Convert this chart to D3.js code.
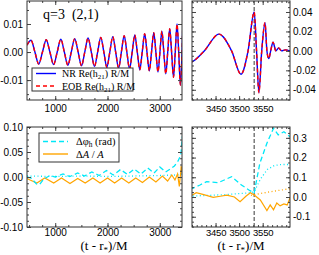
<!DOCTYPE html>
<html>
<head>
<meta charset="utf-8">
<script src="https://cdn.jsdelivr.net/npm/d3@7"></script>
<style>
  body { margin: 0; background: #fff; }
  svg { display: block; font-family: "Liberation Serif", "DejaVu Serif", serif; }
  .tick text { font-size: 10px; fill: #000; }
  .zoomx .tick text { font-size: 9.5px; letter-spacing: -0.2px; }
  .domain { display: none; }
  .tick line { stroke: #444; }
</style>
</head>
<body>
<div id="chart"></div>
<script>
// Re(h21) R/M (extrema and zero crossings), t in M
const waveT = [460, 538, 611, 685, 756, 828, 898, 969, 1038, 1107, 1174, 1241, 1307, 1373, 1438, 1503, 1565, 1628, 1690, 1751,
  1811, 1871, 1930, 1988, 2044, 2101, 2156, 2212, 2265, 2319, 2370, 2422, 2472, 2522, 2570, 2618, 2664, 2711, 2755, 2800,
  2842, 2885, 2925, 2966, 3003, 3040, 3077, 3115, 3152, 3190, 3226, 3262, 3296, 3330, 3362, 3395, 3426, 3457, 3484, 3504,
  3519, 3532, 3537, 3542, 3548, 3555, 3559, 3563, 3567, 3572, 3578, 3584, 3590, 3598, 3608];
const nrH = [0.0025, 0.0042, 0, -0.0043, 0, 0.0044, 0, -0.0045, 0, 0.0046, 0, -0.0047, 0, 0.0048, 0, -0.0049, 0, 0.0050, 0, -0.0051,
  0, 0.0052, 0, -0.0054, 0, 0.0055, 0, -0.0057, 0, 0.0058, 0, -0.0060, 0, 0.0061, 0, -0.0063, 0, 0.0065, 0, -0.0067,
  0, 0.0069, 0, -0.0071, 0, 0.0074, 0, -0.0078, 0, 0.0083, 0, -0.0090, 0, 0.0100, 0, -0.0118, 0, 0.0172, 0, -0.0240,
  0, 0.0400, 0, -0.0430, 0, 0.0290, 0, -0.0080, 0, 0.0090, 0, 0.0030, 0, 0.0010, 0];
// EOB lies on top of NR within the line width
const eobH = nrH.slice();

// phase difference (rad), dashed
const dphiT = [460, 540, 640, 700, 780, 900, 1000, 1150, 1280, 1430, 1560, 1700, 1840, 1980, 2110, 2250, 2380, 2510, 2640, 2770,
  2890, 3000, 3110, 3200, 3280, 3350, 3401, 3417, 3431, 3456, 3484, 3505, 3523, 3532, 3544, 3559, 3573, 3583, 3595, 3608];
const dphiV = [0.000, -0.002, -0.014, -0.015, -0.004, 0.003, 0.000, 0.006, 0.001, 0.008, 0.002, 0.010, 0.003, 0.013, 0.004, 0.015, 0.005, 0.016, 0.006, 0.018,
  0.008, 0.020, 0.010, 0.016, 0.022, 0.032, 0.044, 0.061, 0.078, 0.073, 0.103, 0.061, 0.032, 0.022, 0.171, 0.273, 0.349, 0.315, 0.331, 0.306];
// phase difference, dotted
const dphi2T = [460, 1000, 1500, 2000, 2500, 3000, 3300, 3401, 3431, 3470, 3505, 3525, 3532, 3545, 3560, 3575, 3590, 3608];
const dphi2V = [0.002, 0.001, 0.002, 0.001, 0.002, 0.003, 0.004, 0.005, 0.008, 0.012, 0.018, 0.022, 0.026, 0.090, 0.140, 0.160, 0.165, 0.165];
// relative amplitude difference, solid
const dampT = [460, 520, 648, 800, 971, 1120, 1282, 1430, 1573, 1720, 1858, 2000, 2136, 2270, 2408, 2540, 2668, 2800, 2926, 3050,
  3150, 3230, 3290, 3340, 3374, 3401, 3409, 3425, 3445, 3460, 3474, 3490, 3502, 3515, 3524, 3532, 3545, 3559, 3566, 3573,
  3580, 3587, 3595, 3602, 3608];
const dampV = [-0.003, -0.006, -0.012, -0.002, -0.012, -0.002, -0.013, -0.003, -0.012, -0.002, -0.012, -0.002, -0.012, -0.002, -0.012, -0.002, -0.011, 0.000, -0.010, 0.002,
  -0.008, 0.004, -0.006, 0.006, -0.019, 0.010, 0.022, 0.012, -0.002, 0.004, 0.010, 0.000, -0.024, 0.005, 0.022, 0.010, -0.015, -0.069, -0.040, -0.065,
  -0.030, -0.045, -0.035, -0.040, -0.005];
// relative amplitude difference, dotted
const damp2T = [3525, 3545, 3565, 3585, 3608];
const damp2V = [0.008, 0.018, 0.026, 0.034, 0.042];

const mergerT = 3532;

// tick labels
const xLongTicks = [1000, 2000, 3000], xLongLabels = ["1000", "2000", "3000"];
const xZoomTicks = [3450, 3500, 3550], xZoomLabels = ["3450", "3500", "3550"];
const hLongTicks = [-0.01, 0, 0.01], hLongLabels = ["-0.01", "0.00", "0.01"];
const hZoomTicks = [-0.04, -0.02, 0, 0.02, 0.04], hZoomLabels = ["-0.04", "-0.02", "0.00", "0.02", "0.04"];
const dLongTicks = [-0.1, -0.05, 0, 0.05, 0.1], dLongLabels = ["-0.10", "-0.05", "0.00", "0.05", "0.10"];
const dZoomTicks = [-0.1, 0, 0.1, 0.2, 0.3], dZoomLabels = ["-0.1", "0.0", "0.1", "0.2", "0.3"];

const svg = d3.select("#chart").append("svg").attr("width", 319).attr("height", 255);

const xL = d3.scaleLinear().domain([460, 3425]).range([27, 182]);
const xR = d3.scaleLinear().domain([3400, 3608]).range([192, 290]);
const yTL = d3.scaleLinear().domain([-0.0171, 0.0182]).range([100, 1]);
const yTR = d3.scaleLinear().domain([-0.0505, 0.0513]).range([100, 1]);
const yBL = d3.scaleLinear().domain([-0.1, 0.1]).range([227, 127]);
const yBR = d3.scaleLinear().domain([-0.152, 0.355]).range([227, 127]);

let clipId = 0;
function panel(x, y) {
  const id = "clip" + (clipId++);
  const [x0, x1] = x.range(), [y1, y0] = y.range();
  svg.append("clipPath").attr("id", id).append("rect")
    .attr("x", x0).attr("y", y0).attr("width", x1 - x0).attr("height", y1 - y0);
  return svg.append("g").attr("clip-path", `url(#${id})`);
}

function axes(x, y, o) {
  const [x0, x1] = x.range(), [y1, y0] = y.range();
  const g = svg.append("g");
  const put = (axis, tx, ty) => g.append("g").attr("transform", `translate(${tx},${ty})`).call(axis);
  const lab = (arr, show) => (d, i) => show ? arr[i] : "";
  put(d3.axisBottom(x).tickValues(o.xMinor).tickSize(-2).tickFormat(""), 0, y1);
  put(d3.axisBottom(x).tickValues(o.xTicks).tickSize(-4).tickPadding(o.xPad).tickFormat(lab(o.xLabels, true)), 0, y1)
    .attr("class", o.side === "right" ? "zoomx" : null);
  put(d3.axisTop(x).tickValues(o.xMinor).tickSize(-2).tickFormat(""), 0, y0);
  put(d3.axisTop(x).tickValues(o.xTicks).tickSize(-4).tickFormat(""), 0, y0);
  put(d3.axisLeft(y).tickValues(o.yMinor).tickSize(-2).tickFormat(""), x0, 0);
  put(d3.axisLeft(y).tickValues(o.yTicks).tickSize(-4).tickPadding(4).tickFormat(lab(o.yLabels, o.side === "left")), x0, 0);
  put(d3.axisRight(y).tickValues(o.yMinor).tickSize(-2).tickFormat(""), x1, 0);
  put(d3.axisRight(y).tickValues(o.yTicks).tickSize(-4).tickPadding(3).tickFormat(lab(o.yLabels, o.side === "right")), x1, 0);
  g.append("rect").attr("x", x0).attr("y", y0).attr("width", x1 - x0).attr("height", y1 - y0)
    .attr("fill", "none").attr("stroke", "#333").attr("stroke-width", 1);
}

function series(g, x, y, ts, vs, style, curve) {
  const pts = ts.map((t, i) => [t, vs[i]]);
  g.append("path").datum(pts)
    .attr("d", d3.line().x(d => x(d[0])).y(d => y(d[1])).curve(curve || d3.curveLinear))
    .attr("fill", "none").attr("stroke", style.color).attr("stroke-width", style.w || 1.3)
    .attr("stroke-dasharray", style.dash || null);
}

function mergerLine(g, x, y) {
  const [y1, y0] = y.range();
  g.append("line").attr("x1", x(mergerT)).attr("x2", x(mergerT)).attr("y1", y0).attr("y2", y1)
    .attr("stroke", "#666").attr("stroke-width", 1.3).attr("stroke-dasharray", "4,2");
}

const minorLong = d3.range(500, 3425, 250);
const minorZoom = d3.range(3400, 3608, 10);

// top row: waveforms
[[xL, yTL], [xR, yTR]].forEach(([x, y], k) => {
  const g = panel(x, y);
  if (k === 1) mergerLine(g, x, y);
  series(g, x, y, waveT, nrH, { color: "#0000ff", w: 1.4 }, d3.curveMonotoneX);
  series(g, x, y, waveT, eobH, { color: "#ff0000", w: 1.4, dash: "4,3" }, d3.curveMonotoneX);
});
axes(xL, yTL, { xTicks: xLongTicks, xLabels: xLongLabels, xMinor: minorLong, xPad: 5,
  yTicks: hLongTicks, yLabels: hLongLabels, yMinor: d3.range(-0.015, 0.0181, 0.005), side: "left" });
axes(xR, yTR, { xTicks: xZoomTicks, xLabels: xZoomLabels, xMinor: minorZoom, xPad: 5,
  yTicks: hZoomTicks, yLabels: hZoomLabels, yMinor: d3.range(-0.05, 0.051, 0.005), side: "right" });

// bottom row: differences
[[xL, yBL], [xR, yBR]].forEach(([x, y], k) => {
  const g = panel(x, y);
  if (k === 1) mergerLine(g, x, y);
  series(g, x, y, dphi2T, dphi2V, { color: "#00e8f8", w: 1.3, dash: "1,2.5" });
  if (k === 1) series(g, x, y, damp2T, damp2V, { color: "#ffa500", w: 1.3, dash: "1,2.5" });
  series(g, x, y, dampT, dampV, { color: "#ffa500", w: 1.2 });
  series(g, x, y, dphiT, dphiV, { color: "#00e8f8", w: 1.3, dash: "5,3" });
});
axes(xL, yBL, { xTicks: xLongTicks, xLabels: xLongLabels, xMinor: minorLong, xPad: 2,
  yTicks: dLongTicks, yLabels: dLongLabels, yMinor: d3.range(-0.1, 0.101, 0.0125), side: "left" });
axes(xR, yBR, { xTicks: xZoomTicks, xLabels: xZoomLabels, xMinor: minorZoom, xPad: 2,
  yTicks: dZoomTicks, yLabels: dZoomLabels, yMinor: d3.range(-0.15, 0.351, 0.025), side: "right" });

// panel title
svg.append("text").attr("x", 43).attr("y", 19).attr("font-size", 14)
  .text("q=3\u00a0\u00a0(2,1)");

// legends
function legend(x, y, w, h, rows, fs) {
  const g = svg.append("g");
  g.append("rect").attr("x", x).attr("y", y).attr("width", w).attr("height", h)
    .attr("fill", "#fff").attr("stroke", "#333");
  rows.forEach(r => {
    g.append("line").attr("x1", r.x1).attr("x2", r.x2).attr("y1", r.y).attr("y2", r.y)
      .attr("stroke", r.color).attr("stroke-width", 1.4).attr("stroke-dasharray", r.dash || null);
    const t = g.append("text").attr("x", r.tx).attr("y", r.y + fs * 0.35).attr("font-size", fs);
    r.parts.forEach(p => {
      const s = t.append("tspan").text(p[0]);
      if (p[1] === "sub") s.attr("font-size", fs * 0.7).attr("dy", 2);
      if (p[1] === "up") s.attr("dy", -2);
      if (p[1] === "it") s.attr("font-style", "italic");
    });
  });
}
legend(32, 68, 101, 23, [
  { y: 73.5, x1: 36, x2: 56, tx: 62, color: "#0000ff", parts: [["NR Re(h"], ["21", "sub"], [")", "up"], [" R/M"]] },
  { y: 86, x1: 36, x2: 56, tx: 62, color: "#ff0000", dash: "4,3", parts: [["EOB Re(h"], ["21", "sub"], [")", "up"], [" R/M"]] }
], 10);
legend(39, 133, 80, 29, [
  { y: 141.5, x1: 43, x2: 68, tx: 76, color: "#00e8f8", dash: "5,3", parts: [["\u0394\u03c6"], ["h", "sub"], [" (rad)", "up"]] },
  { y: 154, x1: 43, x2: 68, tx: 76, color: "#ffa500", parts: [["\u0394"], ["A", "it"], [" / "], ["A", "it"]] }
], 10.5);

// x axis titles
[104, 241].forEach(cx => {
  const t = svg.append("text").attr("x", cx).attr("y", 250).attr("font-size", 13).attr("text-anchor", "middle");
  t.append("tspan").text("(t - r");
  t.append("tspan").text("*").attr("font-size", 9).attr("dy", 3);
  t.append("tspan").text(")/M").attr("dy", -3);
});
</script>
</body>
</html>
